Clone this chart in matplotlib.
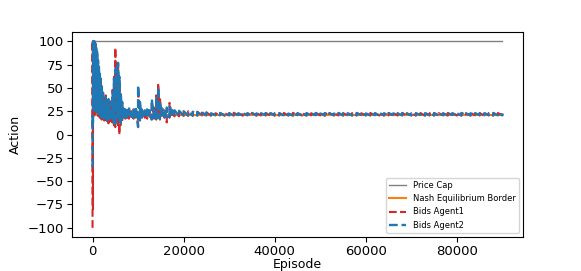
import matplotlib
matplotlib.use('Agg')
import matplotlib.pyplot as plt

# --- Values ---
N_EPISODES = 90000
PRICE_CAP = 100
NASH_BORDER = 21

# Checkpoints (episode) with the low / high envelope of each agent's bids.
early_eps = [0, 100, 250, 400, 600, 800, 1000, 1200, 1400, 1600, 1800, 2000,
             2300, 2600, 2900, 3200, 3500, 3800, 4100, 4400, 4700, 5000, 5300,
             5600, 5900, 6200, 6500, 6800, 7200, 7600, 8000, 8500, 9000, 9500,
             10000, 10400, 10800, 11500, 12000, 12500, 13000, 13500, 14000,
             14400, 14800, 15300, 15800, 16300, 16900, 17500, 18000, 19000,
             20000, 21000, 22000, 23000, 24000, 25000]
late_eps = list(range(26000, 90001, 1000))
checkpoints = early_eps + late_eps

agent2_low = [-35, 10, 30, 35, 25, 30, 25, 22, 25, 20, 22, 18,
              20, 17, 18, 15, 14, 17, 16, 15, 12, 9, 18,
              20, 15, 12, 15, 17, 18, 19, 18, 19, 18, 17,
              8, 15, 18, 19, 18, 20, 16, 18, 17,
              18, 17, 19, 19, 18, 19, 20, 20, 20,
              20.5, 20.5, 20.5, 20.5, 21, 20.5,
              20.6, 20.9, 20.7, 21.0, 20.8, 20.6, 20.9, 20.8, 21.0, 20.7,
              20.8, 20.6, 20.9, 20.7, 21.0, 20.8, 20.7, 20.9, 20.6, 20.8,
              21.0, 20.7, 20.9, 20.8, 20.6, 20.9, 20.7, 21.0, 20.8, 20.7,
              20.9, 20.6, 20.8, 21.0, 20.7, 20.9, 20.8, 20.6, 20.9, 20.7,
              21.0, 20.8, 20.7, 20.9, 20.6, 20.8, 21.0, 20.7, 20.9, 20.8,
              20.6, 20.9, 20.7, 21.0, 20.8, 20.7, 20.9, 20.6, 20.8, 21.0,
              20.7, 20.9, 20.8, 20.6, 20.9]
agent2_high = [20, 100, 100, 100, 100, 95, 90, 80, 73, 65, 60, 52,
               45, 35, 40, 30, 38, 28, 35, 45, 60, 70, 72,
               77, 62, 45, 35, 28, 27, 26, 28, 26, 27, 30,
               53, 35, 27, 26, 27, 26, 38, 28, 40,
               51, 35, 28, 27, 29, 30, 26, 26, 25.5,
               25, 24.5, 24.5, 24, 24, 23.5,
               22.8, 22.5, 22.9, 22.6, 22.7, 22.9, 22.5, 22.8, 22.6, 22.9,
               22.7, 22.5, 22.8, 22.9, 22.6, 22.7, 22.8, 22.5, 22.9, 22.6,
               22.7, 22.8, 22.5, 22.9, 22.6, 22.8, 22.7, 22.5, 22.9, 22.6,
               22.8, 22.7, 22.9, 22.5, 22.6, 22.8, 22.7, 22.9, 22.5, 22.8,
               22.6, 22.7, 22.9, 22.5, 22.8, 22.6, 22.7, 22.9, 22.5, 22.8,
               22.6, 22.7, 22.8, 22.6, 22.7, 22.9, 22.5, 22.8, 22.6, 22.7,
               22.8, 22.6, 22.9, 22.7, 22.6]

agent1_low = [-100, -80, 20, 30, 22, 28, 22, 20, 22, 18, 20, 16,
              18, 15, 16, 13, 12, 15, 14, 13, 10, 8, 15,
              10, 0, 10, 13, 16, 17, 18, 17, 18, 17, 16,
              10, 14, 17, 18, 17, 19, 17, 17, 16,
              17, 16, 18, 18, 13, 18, 19, 19.5, 19.5,
              20, 20, 20, 20.3, 20.5, 20.2,
              20.3, 20.6, 20.4, 20.1, 20.5, 20.3, 20.6, 20.2, 20.5, 20.4,
              20.2, 20.5, 20.3, 20.6, 20.1, 20.4, 20.5, 20.3, 20.2, 20.5,
              20.4, 20.2, 20.6, 20.3, 20.5, 20.1, 20.4, 20.3, 20.5, 20.2,
              20.6, 20.3, 20.4, 20.2, 20.5, 20.3, 20.6, 20.4, 20.2, 20.5,
              20.3, 20.4, 20.6, 20.2, 20.5, 20.3, 20.4, 20.2, 20.5, 20.3,
              20.4, 20.6, 20.3, 20.5, 20.4, 20.2, 20.5, 20.3, 20.6, 20.4,
              20.3, 20.5, 20.2, 20.4, 20.5]
agent1_high = [100, 100, 100, 100, 98, 92, 88, 78, 72, 62, 58, 50,
               42, 38, 42, 32, 36, 30, 36, 48, 62, 93, 70,
               74, 58, 42, 32, 27, 26, 25, 27, 25, 26, 28,
               50, 33, 26, 25, 26, 25, 35, 29, 42,
               55, 38, 27, 26, 28, 34, 26, 25.5, 25,
               24.5, 25, 24, 24.5, 23.5, 23.8,
               23.2, 22.9, 23.3, 23.0, 23.1, 23.4, 22.9, 23.2, 23.0, 23.3,
               23.1, 22.9, 23.2, 23.4, 23.0, 23.1, 23.2, 22.9, 23.3, 23.0,
               23.1, 23.2, 22.9, 23.3, 23.0, 23.2, 23.1, 22.9, 23.3, 23.0,
               23.2, 23.1, 23.3, 22.9, 23.0, 23.2, 23.1, 23.3, 22.9, 23.2,
               23.0, 23.1, 23.3, 22.9, 23.2, 23.0, 23.1, 23.3, 22.9, 23.2,
               23.0, 23.1, 23.2, 23.0, 23.1, 23.3, 22.9, 23.2, 23.0, 23.1,
               23.2, 23.0, 23.3, 23.1, 23.0]


def zigzag(eps, low, high):
    # Walk the envelope: vertical stroke at every checkpoint, low -> high.
    xs, ys = [], []
    for e, lo, hi in zip(eps, low, high):
        xs += [e, e]
        ys += [lo, hi]
    return xs, ys


fig = plt.figure(figsize=(5.81, 2.71), dpi=100)
ax = fig.add_axes([0.124, 0.125, 0.776, 0.757])

ax.plot([0, N_EPISODES], [PRICE_CAP, PRICE_CAP], color='grey', lw=1, label='Price Cap')
ax.plot([0, N_EPISODES], [NASH_BORDER, NASH_BORDER], color='tab:orange', lw=1.5,
        label='Nash Equilibrium Border')

x1, y1 = zigzag(checkpoints, agent1_low, agent1_high)
ax.plot(x1, y1, color='tab:red', ls='--', lw=1.5, label='Bids Agent1')
x2, y2 = zigzag(checkpoints, agent2_low, agent2_high)
ax.plot(x2, y2, color='tab:blue', ls='--', lw=1.7, label='Bids Agent2')

ax.set_ylim(-110, 110)
ax.set_xlim(-4500, 94500)
ax.set_yticks([-100, -75, -50, -25, 0, 25, 50, 75, 100])
ax.set_xticks([0, 20000, 40000, 60000, 80000])
ax.tick_params(labelsize=9.5, pad=2.5)
ax.set_xlabel('Episode', fontsize=9, labelpad=0)
ax.set_ylabel('Action', fontsize=9)
ax.legend(loc='lower right', fontsize=6)

fig.savefig('out.png', dpi=100)
